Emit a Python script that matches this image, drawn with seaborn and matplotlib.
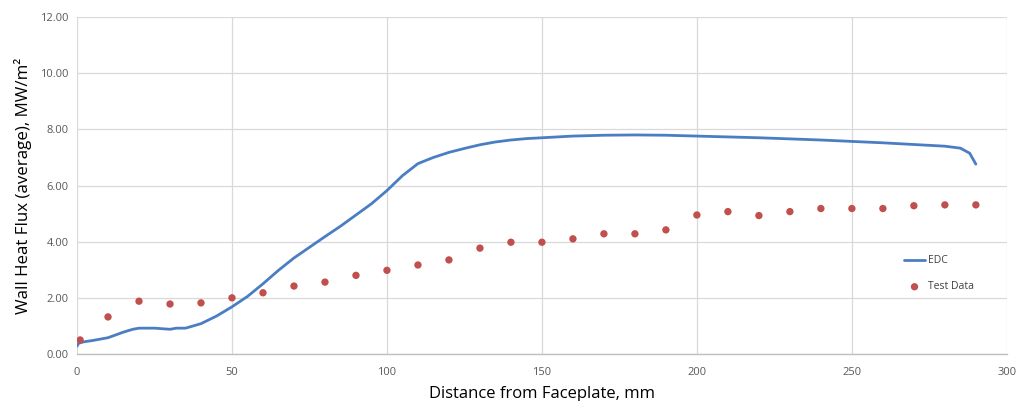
import matplotlib
matplotlib.use("Agg")
import matplotlib.pyplot as plt
import seaborn as sns
import pandas as pd
from matplotlib.ticker import FormatStrFormatter

# EDC simulation curve
edc_x = [0, 0.5, 2, 5, 10, 15, 18, 20, 25, 30, 32, 35, 40, 45, 50, 55, 60, 65, 70, 75,
         80, 85, 90, 95, 100, 105, 110, 115, 120, 125, 130, 135, 140, 145, 150, 160,
         170, 180, 190, 200, 210, 220, 230, 240, 250, 260, 270, 280, 285, 288, 290]
edc_y = [0.28, 0.38, 0.43, 0.48, 0.58, 0.78, 0.88, 0.92, 0.92, 0.88, 0.92, 0.92, 1.08,
         1.35, 1.68, 2.05, 2.50, 2.98, 3.42, 3.80, 4.18, 4.55, 4.95, 5.35, 5.82, 6.35,
         6.78, 7.00, 7.18, 7.32, 7.45, 7.55, 7.62, 7.67, 7.70, 7.76, 7.79, 7.80, 7.79,
         7.76, 7.73, 7.70, 7.66, 7.62, 7.57, 7.52, 7.46, 7.40, 7.33, 7.15, 6.76]

# Test data
test_x = [1, 10, 20, 30, 40, 50, 60, 70, 80, 90, 100, 110, 120, 130, 140, 150, 160,
          170, 180, 190, 200, 210, 220, 230, 240, 250, 260, 270, 280, 290]
test_y = [0.50, 1.32, 1.88, 1.78, 1.82, 2.00, 2.18, 2.42, 2.56, 2.80, 2.98, 3.17, 3.35,
          3.77, 3.98, 3.98, 4.10, 4.28, 4.28, 4.42, 4.95, 5.07, 4.93, 5.07, 5.18, 5.18,
          5.18, 5.28, 5.31, 5.31]

sns.set_theme(style="white")
plt.rcParams['font.family'] = ['Open Sans', 'DejaVu Sans']

fig = plt.figure(figsize=(10.16, 4.01), dpi=100)
ax = fig.add_axes([0.0758, 0.1172, 0.9152, 0.8404])

edc = pd.DataFrame({"x": edc_x, "y": edc_y})
test = pd.DataFrame({"x": test_x, "y": test_y})

sns.lineplot(data=edc, x="x", y="y", ax=ax, color="#4A7EC2", linewidth=2.0,
             label="EDC", zorder=3)
sns.scatterplot(data=test, x="x", y="y", ax=ax, color="#C0504D", s=28,
                edgecolor="none", label="Test Data", zorder=4)

ax.set_xlim(0, 300)
ax.set_ylim(0, 12)
ax.set_xticks(range(0, 301, 50))
ax.set_yticks(range(0, 13, 2))
ax.yaxis.set_major_formatter(FormatStrFormatter("%.2f"))
ax.grid(True, color="#D9D9D9", linewidth=0.9)
ax.set_axisbelow(True)
for s in ["top", "right", "left"]:
    ax.spines[s].set_visible(False)
ax.spines["bottom"].set_color("#BFBFBF")
ax.spines["bottom"].set_linewidth(1.0)
ax.tick_params(axis="x", labelsize=8, colors="#595959", length=0, pad=9)
ax.tick_params(axis="y", labelsize=8, colors="#595959", length=0, pad=6)

ax.set_xlabel("Distance from Faceplate, mm", fontsize=12, color="black", labelpad=6)
ax.set_ylabel("Wall Heat Flux (average), MW/m²", fontsize=12.2, color="black", labelpad=6)

leg = ax.legend(loc="upper left", bbox_to_anchor=(0.885, 0.305), frameon=False,
                fontsize=7.5, handlelength=2.0, handletextpad=0.3, labelspacing=1.45,
                borderaxespad=0)
for t in leg.get_texts():
    t.set_color("#404040")

fig.savefig("out.png", dpi=100)
